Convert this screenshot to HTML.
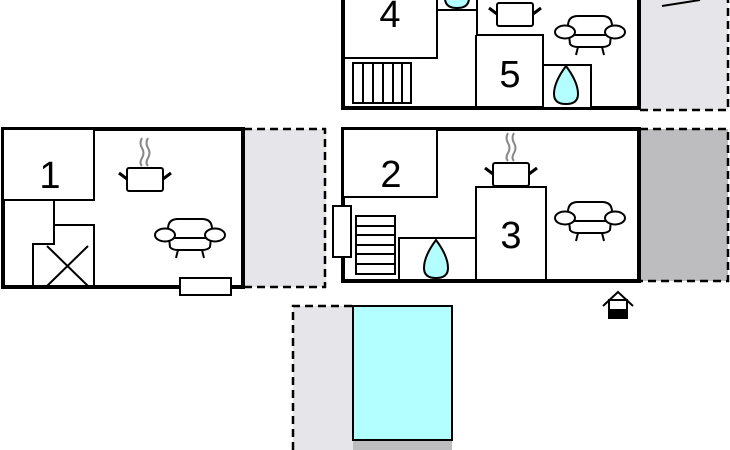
<!DOCTYPE html>
<html><head><style>body{margin:0;background:#fff}svg{display:block}</style></head>
<body>
<svg width="730" height="450" viewBox="0 0 730 450" xmlns="http://www.w3.org/2000/svg" font-family="Liberation Sans, sans-serif">
<defs>
<g id="sofa" fill="#fff" stroke="#000" stroke-width="2">
<path d="M-22,-6 Q-22,-16 -12,-16 L12,-16 Q22,-16 22,-6 L20,12 Q18,15 12,15 L-12,15 Q-18,15 -20,12 Z"/>
<line x1="-20" y1="3" x2="20" y2="3"/>
<ellipse cx="-25" cy="0" rx="10" ry="6.5"/>
<ellipse cx="25" cy="0" rx="10" ry="6.5"/>
<line x1="-12" y1="15" x2="-14" y2="23"/>
<line x1="12" y1="15" x2="14" y2="23"/>
</g>
<g id="pot">
<rect x="-18" y="0" width="36" height="23" rx="2" fill="#fff" stroke="#000" stroke-width="2"/>
<line x1="-26" y1="5" x2="-18" y2="11" stroke="#000" stroke-width="3"/>
<line x1="26" y1="5" x2="18" y2="11" stroke="#000" stroke-width="3"/>
</g>
<g id="steam" fill="none" stroke="#888" stroke-width="2">
<path d="M-3,-30 q-3,5 0,10 q3,5 0,10 q-3,5 0,8"/>
<path d="M3,-30 q-3,5 0,10 q3,5 0,10 q-3,5 0,8"/>
</g>
<path id="drop" d="M0,-22 Q12,-6 12,6 Q12,16 0,16 Q-12,16 -12,6 Q-12,-6 0,-22 Z" fill="#b3ffff" stroke="#000" stroke-width="2"/>
</defs>

<!-- top building -->
<rect x="640" y="-5" width="88" height="115" fill="#e6e6ea"/>
<path d="M640,110 L728,110 L728,-5" fill="none" stroke="#000" stroke-width="2.5" stroke-dasharray="8,5"/>
<polyline points="662,6 700,0" fill="none" stroke="#000" stroke-width="2"/>
<rect x="343" y="-5" width="296" height="113" fill="#fff" stroke="#000" stroke-width="4"/>
<polyline points="343,58 437,58 437,-5" fill="none" stroke="#000" stroke-width="2"/>
<polyline points="437,10 477,10 477,-5" fill="none" stroke="#000" stroke-width="2"/>
<use href="#drop" x="457" y="-8"/>
<polyline points="477,-5 477,35 543,35 543,108" fill="none" stroke="#000" stroke-width="2"/>
<line x1="476" y1="35" x2="476" y2="108" stroke="#000" stroke-width="2"/>
<rect x="543" y="65" width="48" height="43" fill="#fff" stroke="#000" stroke-width="2"/>
<use href="#drop" x="566" y="88"/>
<text x="510" y="87" font-size="38" text-anchor="middle">5</text>
<text x="390" y="27" font-size="38" text-anchor="middle">4</text>
<g stroke="#000" stroke-width="2" fill="#fff"><rect x="353" y="63" width="58" height="40"/>
<line x1="363" y1="63" x2="363" y2="103"/><line x1="373" y1="63" x2="373" y2="103"/><line x1="383" y1="63" x2="383" y2="103"/><line x1="393" y1="63" x2="393" y2="103"/><line x1="402" y1="63" x2="402" y2="103"/></g>
<use href="#pot" x="515" y="3"/>
<use href="#sofa" x="590" y="32"/>

<!-- middle building -->
<rect x="640" y="129" width="88" height="152" fill="#bdbdbf"/>
<path d="M640,129 L728,129 L728,281 L640,281" fill="none" stroke="#000" stroke-width="2.5" stroke-dasharray="8,5"/>
<rect x="343" y="129" width="296" height="152" fill="#fff" stroke="#000" stroke-width="4"/>
<rect x="343" y="129" width="94" height="68" fill="#fff" stroke="#000" stroke-width="2"/>
<text x="391" y="187" font-size="38" text-anchor="middle">2</text>
<rect x="399" y="238" width="77" height="42" fill="#fff" stroke="#000" stroke-width="2"/>
<use href="#drop" x="436" y="262"/>
<rect x="476" y="187" width="70" height="93" fill="#fff" stroke="#000" stroke-width="2"/>
<text x="511" y="248" font-size="38" text-anchor="middle">3</text>
<use href="#steam" x="511" y="163"/>
<use href="#pot" x="511" y="163"/>
<use href="#sofa" x="590" y="218"/>
<g stroke="#000" stroke-width="2" fill="#fff"><rect x="356" y="216" width="39" height="58"/>
<line x1="356" y1="226" x2="395" y2="226"/><line x1="356" y1="235" x2="395" y2="235"/><line x1="356" y1="245" x2="395" y2="245"/><line x1="356" y1="254" x2="395" y2="254"/><line x1="356" y1="264" x2="395" y2="264"/></g>
<rect x="333" y="206" width="18" height="51" fill="#fff" stroke="#000" stroke-width="2"/>
<!-- entrance -->
<polyline points="603,306 618,292 633,306" fill="none" stroke="#000" stroke-width="2"/>
<rect x="609" y="300" width="18" height="18" fill="#fff" stroke="#000" stroke-width="2"/>
<rect x="609" y="309" width="18" height="9" fill="#000"/>

<!-- left building -->
<rect x="244" y="129" width="82" height="158" fill="#e6e6ea"/>
<path d="M244,129 L325,129 L325,287 L244,287" fill="none" stroke="#000" stroke-width="2.5" stroke-dasharray="8,5"/>
<rect x="3" y="129" width="240" height="158" fill="#fff" stroke="#000" stroke-width="4"/>
<rect x="3" y="129" width="91" height="71" fill="#fff" stroke="#000" stroke-width="2"/>
<text x="50" y="188" font-size="38" text-anchor="middle">1</text>
<polyline points="54,200 54,244 33,244 33,287" fill="none" stroke="#000" stroke-width="2"/>
<polyline points="54,225 94,225 94,287" fill="none" stroke="#000" stroke-width="2"/>
<line x1="47" y1="286" x2="88" y2="246" stroke="#000" stroke-width="2"/>
<line x1="47" y1="246" x2="88" y2="286" stroke="#000" stroke-width="2"/>
<use href="#steam" x="145" y="168"/>
<use href="#pot" x="145" y="168"/>
<use href="#sofa" x="190" y="235"/>
<rect x="180" y="278" width="51" height="17" fill="#fff" stroke="#000" stroke-width="2"/>

<!-- pool -->
<rect x="293" y="306" width="60" height="144" fill="#e6e6ea"/>
<path d="M293,450 L293,306 L353,306" fill="none" stroke="#000" stroke-width="2.5" stroke-dasharray="8,5"/>
<rect x="353" y="441" width="99" height="12" fill="#bdbdbf"/>
<rect x="353" y="306" width="99" height="134" fill="#b3ffff" stroke="#000" stroke-width="2"/>
</svg>
</body></html>
